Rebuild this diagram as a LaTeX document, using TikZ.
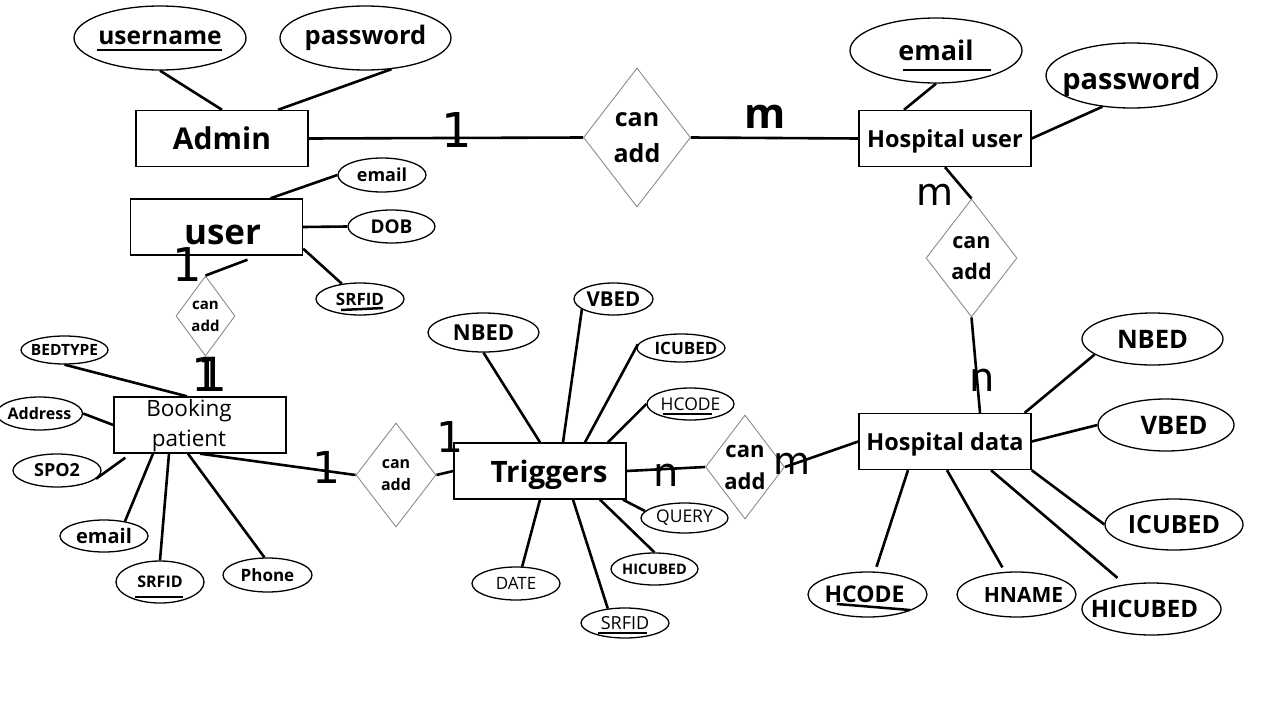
\documentclass[tikz,border=0pt]{standalone}
\usepackage{fontspec}
\setmainfont{Open Sans}
\newfontfamily\cardfont{DejaVu Sans}
\usetikzlibrary{shapes.geometric}
\newcommand{\fsz}[1]{\fontsize{#1}{#1}\selectfont}
\newcommand{\zb}[1]{\makebox[0pt]{#1}}
\newcommand{\cantext}[2]{\fontsize{#1}{#2}\selectfont\smash{\makebox[0pt]{\raisebox{-0.25em}{\begin{tabular}{@{}c@{}}can\\add\end{tabular}}}}}
\begin{document}
\begin{tikzpicture}[x=1pt,y=-1pt,
 ent/.style={draw, line width=1.4pt, rectangle, minimum width=172pt, minimum height=56pt, inner sep=0pt},
 attr/.style={draw, line width=1.3pt, ellipse, inner sep=0pt},
 rel/.style={draw=black!45, line width=0.9pt, diamond, inner sep=0pt, font=\bfseries},
 conn/.style={line width=2.6pt},
 card/.style={inner sep=0pt},
 ul/.style={line width=2.5pt}]
\fill[white] (0,0) rectangle (1280,720);
\useasboundingbox (0,0) rectangle (1280,720);

% entities
\node[ent, font=\bfseries\fsz{30}] (adm) at (222,138.5) {Admin};
\node[ent, font=\bfseries\fsz{35}, text height=35pt, text depth=0pt] (us) at (216.5,227) {\hspace*{12pt}user};
\node[ent, font=\bfseries\fsz{23.5}, text depth=0pt] (hu) at (945,138.5) {Hospital user};
\node[ent, font=\fontsize{22.5}{30}\selectfont, align=center, text depth=4pt] (bp) at (200,425) {Booking\hspace*{22pt}\\patient\hspace*{22pt}};
\node[ent, font=\bfseries\fsz{29.5}, text depth=0pt] (tr) at (540,471) {\hspace*{18pt}Triggers};
\node[ent, font=\bfseries\fsz{23.5}, text depth=0pt] (hd) at (945,441.5) {Hospital data};

% relationships
\node[rel, minimum width=107pt, minimum height=139pt] (d1) at (637,137.5) {\cantext{25}{36}};
\node[rel, minimum width=91pt, minimum height=118pt] (d2) at (971.5,258) {\cantext{21.5}{31}};
\node[rel, minimum width=59pt, minimum height=80pt] (d5) at (205.5,316) {\cantext{15}{22}};
\node[rel, minimum width=80pt, minimum height=104pt] (d4) at (396,475) {\cantext{16}{22}};
\node[rel, minimum width=79pt, minimum height=104pt] (d3) at (745,467) {\cantext{22}{32}};

% admin attributes
\node[attr, minimum width=172pt, minimum height=64pt, font=\bfseries\fsz{24.5}] (un) at (160,38) {\zb{username}};
\node[attr, minimum width=171pt, minimum height=64pt, font=\bfseries\fsz{25.5}] (apw) at (365.5,38) {\zb{password}};
% user attributes
\node[attr, minimum width=88pt, minimum height=34pt, font=\bfseries\fsz{18}] (uem) at (382,175) {\zb{email}};
\node[attr, minimum width=87pt, minimum height=33pt, font=\bfseries\fsz{19}] (udob) at (391.5,226.5) {\zb{DOB}};
\node[attr, minimum width=88pt, minimum height=32pt, font=\bfseries\fsz{17}] (usr) at (360,299) {\zb{SRFID}};
% hospital user attributes
\node[attr, minimum width=172pt, minimum height=65pt, font=\bfseries\fsz{27}] (hem) at (936,50.5) {\zb{email}};
\node[attr, minimum width=171pt, minimum height=65pt, font=\bfseries\fsz{29}, text height=34pt, text depth=7pt] (hpw) at (1131.5,75.5) {\zb{password}};
% booking attributes
\node[attr, minimum width=87pt, minimum height=28pt, font=\bfseries\fsz{15.5}] (bbt) at (64.5,350) {\zb{BEDTYPE}};
\node[attr, minimum width=86pt, minimum height=33pt, font=\bfseries\fsz{16}] (badr) at (39.5,413.5) {\zb{Address}};
\node[attr, minimum width=88pt, minimum height=33pt, font=\bfseries\fsz{18}] (bspo) at (57,470.5) {\zb{SPO2}};
\node[attr, minimum width=88pt, minimum height=32pt, font=\bfseries\fsz{20}] (bem) at (104,536) {\zb{email}};
\node[attr, minimum width=88pt, minimum height=42pt, font=\bfseries\fsz{16}] (bsr) at (160,582) {\zb{SRFID}};
\node[attr, minimum width=89pt, minimum height=34pt, font=\bfseries\fsz{17}] (bph) at (267.5,575) {\zb{Phone}};
% trigger attributes
\node[attr, minimum width=79pt, minimum height=32pt, font=\bfseries\fsz{20.5}] (tvb) at (613.5,299) {\zb{VBED}};
\node[attr, minimum width=111pt, minimum height=39pt, font=\bfseries\fsz{22}] (tnb) at (483.5,332.5) {\zb{NBED}};
\node[attr, minimum width=88pt, minimum height=28pt, font=\bfseries\fsz{17}] (tic) at (681,348) {\zb{\hspace*{10pt}ICUBED}};
\node[attr, minimum width=87pt, minimum height=32pt, font=\fsz{17.5}] (thc) at (690.5,404) {\zb{HCODE}};
\node[attr, minimum width=87pt, minimum height=30pt, font=\fsz{17.5}] (tq) at (684.5,518) {\zb{QUERY}};
\node[attr, minimum width=87pt, minimum height=32pt, font=\bfseries\fsz{14.5}] (thi) at (654.5,569) {\zb{HICUBED}};
\node[attr, minimum width=88pt, minimum height=33pt, font=\fsz{17}] (tdt) at (516,583.5) {\zb{DATE}};
\node[attr, minimum width=88pt, minimum height=30pt, font=\fsz{18}] (tsr) at (625,623) {\zb{SRFID}};
% hospital data attributes
\node[attr, minimum width=141pt, minimum height=52pt, font=\bfseries\fsz{25.5}] (hnb) at (1152.5,339) {\zb{NBED}};
\node[attr, minimum width=136pt, minimum height=52pt, font=\bfseries\fsz{25.5}] (hvb) at (1166,425) {\zb{\hspace*{16pt}VBED}};
\node[attr, minimum width=138pt, minimum height=51pt, font=\bfseries\fsz{25}] (hic) at (1174,524.5) {\zb{ICUBED}};
\node[attr, minimum width=119pt, minimum height=45pt, font=\bfseries\fsz{23}] (hhc) at (867.5,594.5) {\zb{HCODE\hspace*{6pt}}};
\node[attr, minimum width=119pt, minimum height=45pt, font=\bfseries\fsz{21}] (hhn) at (1016.5,594.5) {\zb{\hspace*{14pt}HNAME}};
\node[attr, minimum width=139pt, minimum height=52pt, font=\bfseries\fsz{24}] (hhi) at (1151.5,609) {\zb{HICUBED\hspace*{14pt}}};

% underlines of keys
\draw[ul] (97,50) -- (222,50);
\draw[ul] (903,70) -- (991,70);
\draw[ul] (341,310) -- (383,308);
\draw[ul] (663,414) -- (712,414);
\draw[ul] (135,597) -- (183,597);
\draw[ul] (598,633) -- (647,633);
\draw[ul] (837,604) -- (910,610);

% connectors
\draw[conn] (un.south) -- (adm.north);
\draw[conn] (apw.-50) -- ([xshift=56pt]adm.north);
\draw[conn] (adm.east) -- (d1.west);
\draw[conn] (d1.east) -- (hu.west);
\draw[conn] (hem.south) -- ([xshift=-41pt]hu.north);
\draw[conn] (hpw.-133) -- (hu.east);
\draw[conn] (hu.south) -- (d2.north);
\draw[conn] (d2.south) -- ([xshift=35pt]hd.north);
\draw[conn] ([xshift=-7pt]hd.north east) -- (hnb.-165);
\draw[conn] (hd.east) -- (hvb.west);
\draw[conn] (hd.south east) -- (hic.west);
\draw[conn, shorten >=10pt] ([xshift=46pt]hd.south) -- (hhi.137);
\draw[conn, shorten >=5pt] ([xshift=2pt]hd.south) -- (hhn.117);
\draw[conn, shorten >=5pt] ([xshift=-37pt]hd.south) -- (hhc.72);
\draw[conn] (hd.west) -- (d3.east);
\draw[conn] (d3.west) -- (tr.east);
\draw[conn] (tnb.south) -- (tr.north);
\draw[conn] (tvb.-162) -- ([xshift=23pt]tr.north);
\draw[conn] (tic.175) -- ([xshift=45pt]tr.north);
\draw[conn] (thc.west) -- ([xshift=68pt]tr.north);
\draw[conn] ([xshift=83pt]tr.south) -- (tq.170);
\draw[conn] ([xshift=60pt]tr.south) -- (thi.north);
\draw[conn] ([xshift=33pt]tr.south) -- (tsr.140);
\draw[conn] (tr.south) -- (tdt.70);
\draw[conn] (d4.east) -- (tr.west);
\draw[conn] (bp.south) -- (d4.west);
\draw[conn] (bbt.south) -- ([xshift=-13pt]bp.north);
\draw[conn] (badr.east) -- (bp.west);
\draw[conn] (bspo.-12) -- ([xshift=12pt,yshift=-4pt]bp.south west);
\draw[conn] (bem.35) -- ([xshift=-47pt]bp.south);
\draw[conn] (bsr.north) -- ([xshift=-31pt]bp.south);
\draw[conn] (bph.100) -- ([xshift=-12pt]bp.south);
\draw[conn] (uem.west) -- ([xshift=54pt]us.north);
\draw[conn] (udob.west) -- (us.east);
\draw[conn] (usr.140) -- ([yshift=7pt]us.south east);
\draw[conn] ([xshift=31pt,yshift=-4pt]us.south) -- (d5.north);

% cardinalities
\node[card, font=\cardfont\fsz{48}] (c1) at (457,130) {1};
\node[card, font=\bfseries\fsz{42}] (c2) at (765,117) {m};
\node[card, font=\cardfont\fsz{38}] (c3) at (935,195) {m};
\node[card, font=\cardfont\fsz{40}] (c4) at (982,380) {n};
\node[card, font=\cardfont\fsz{38}] (c5) at (792,464) {m};
\node[card, font=\cardfont\fsz{40}] (c6) at (666,475) {n};
\node[card, font=\cardfont\fsz{42.5}] (c7) at (450,437) {1};
\node[card, font=\cardfont\fsz{44}] (c8) at (326,467) {1};
\node[card, font=\cardfont\fsz{46.5}] (c9) at (187,265) {1};
\node[card, font=\cardfont\fsz{47}] (c10) at (206.5,374) {1};
\node[card, font=\cardfont\fsz{47}] (c11) at (212,374) {1};
\end{tikzpicture}
\end{document}
